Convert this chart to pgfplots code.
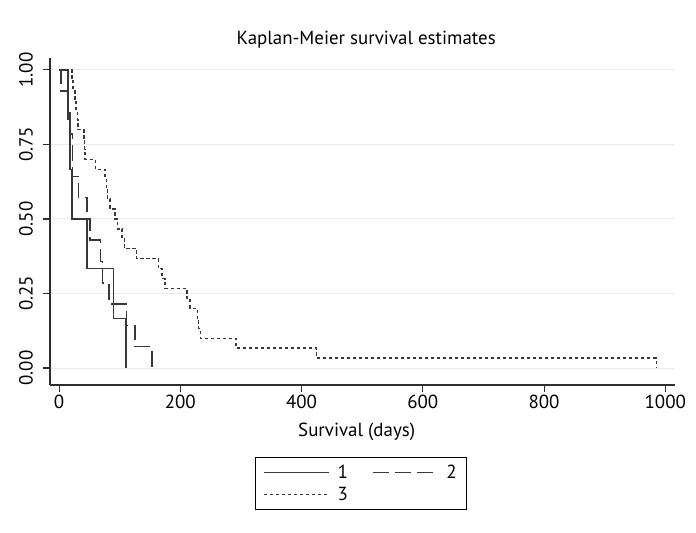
\documentclass[border=0pt]{standalone}
\usepackage{graphicx}
\usepackage{pgfplots}
\pgfplotsset{compat=1.18}
\usepackage{fontspec}
\setmainfont{PT Sans}
\definecolor{lc}{HTML}{383838}
\definecolor{axc}{HTML}{2E2E2E}
\definecolor{gridc}{HTML}{EBEBEB}
\begin{document}
\begin{tikzpicture}
\path[use as bounding box] (-50bp,-148bp) rectangle (646bp,385bp);
\begin{axis}[
  at={(0,0)}, anchor=south west,
  scale only axis, width=625bp, height=327bp,
  xmin=-15, xmax=1016, ymin=-0.057, ymax=1.04,
  clip=false,
  axis x line*=bottom, axis y line*=left,
  axis line style={axc, line width=1.3bp},
  tick style={axc, line width=1.1bp},
  tick align=outside, major tick length=7bp,
  xtick={0,200,400,600,800,1000},
  ytick={0,0.25,0.5,0.75,1},
  yticklabels={},
  minor tick num=0,
  ymajorgrids, grid style={gridc, line width=1bp},
  /pgf/number format/assume math mode=true,
  font=\fontsize{19}{23}\selectfont,
  ticklabel style={font=\fontsize{19}{23}\selectfont},
  xticklabel style={anchor=north, inner sep=0pt, yshift=-3bp,
    /pgf/number format/.cd, fixed, set thousands separator={}},
  scaled ticks=false,
  title={Kaplan-Meier survival estimates},
  title style={at={(0.506,1.0245)}, anchor=base, font=\fontsize{19}{23}\selectfont},
  xlabel={Survival (days)},
  xlabel style={at={(0.4907,-0.159)}, anchor=base, font=\fontsize{19}{23}\selectfont},
  legend style={at={(0.4976,-0.301)}, anchor=center, draw=black, line width=1.1bp,
    font=\fontsize{19}{23}\selectfont, inner xsep=8bp, inner ysep=5bp, row sep=4bp,
    /tikz/every even column/.append style={column sep=22bp}},
  legend columns=2,
  legend cell align=left,
  legend image code/.code={\draw[#1, line width=1.1bp] (0bp,0bp) -- (65bp,0bp); \path (71bp,0bp);},
]
\addplot[const plot, color=lc, line width=1.5bp] coordinates {
(0,1) (15,0.8333) (18,0.6667) (21,0.5) (46,0.3333) (90,0.1667) (110,0)
};
\addlegendentry{1}
\addplot[const plot, color=lc, line width=1.5bp, dash pattern=on 16bp off 6bp] coordinates {
(0,1) (3,0.9286) (14,0.8571) (18,0.7857) (22,0.6429) (32,0.5714) (46,0.5) (51,0.4286) (68,0.3571) (72,0.2857) (82,0.2143) (111,0.1429) (125,0.0714) (153,0)
};
\addlegendentry{2}
\addplot[const plot, color=lc, line width=1.4bp, dash pattern=on 3.5bp off 2.5bp] coordinates {
(0,1) (21,0.9667) (23,0.9333) (26,0.9) (28,0.8667) (30,0.8333) (31,0.8) (41,0.7667) (42,0.7333) (43,0.7) (60,0.6667) (76,0.6333) (78,0.6) (80,0.5667) (84,0.5333) (92,0.5) (96,0.4667) (104,0.4333) (108,0.4) (128,0.3667) (164,0.3333) (170,0.3) (175,0.2667) (211,0.2333) (216,0.2) (228,0.1667) (230,0.1333) (233,0.1) (292,0.0667) (425,0.0333) (985,0)
};
\addlegendentry{3}
\foreach \v/\t in {0/0.00,0.25/0.25,0.5/0.50,0.75/0.75,1/1.00}{
  \edef\tmp{\noexpand\node[rotate=90, anchor=south, inner sep=0pt, font=\noexpand\fontsize{19}{23}\noexpand\selectfont]
    at ([xshift=-17bp]axis cs:-15,\v) {\t};}
  \tmp
}
\end{axis}
\end{tikzpicture}
\end{document}
